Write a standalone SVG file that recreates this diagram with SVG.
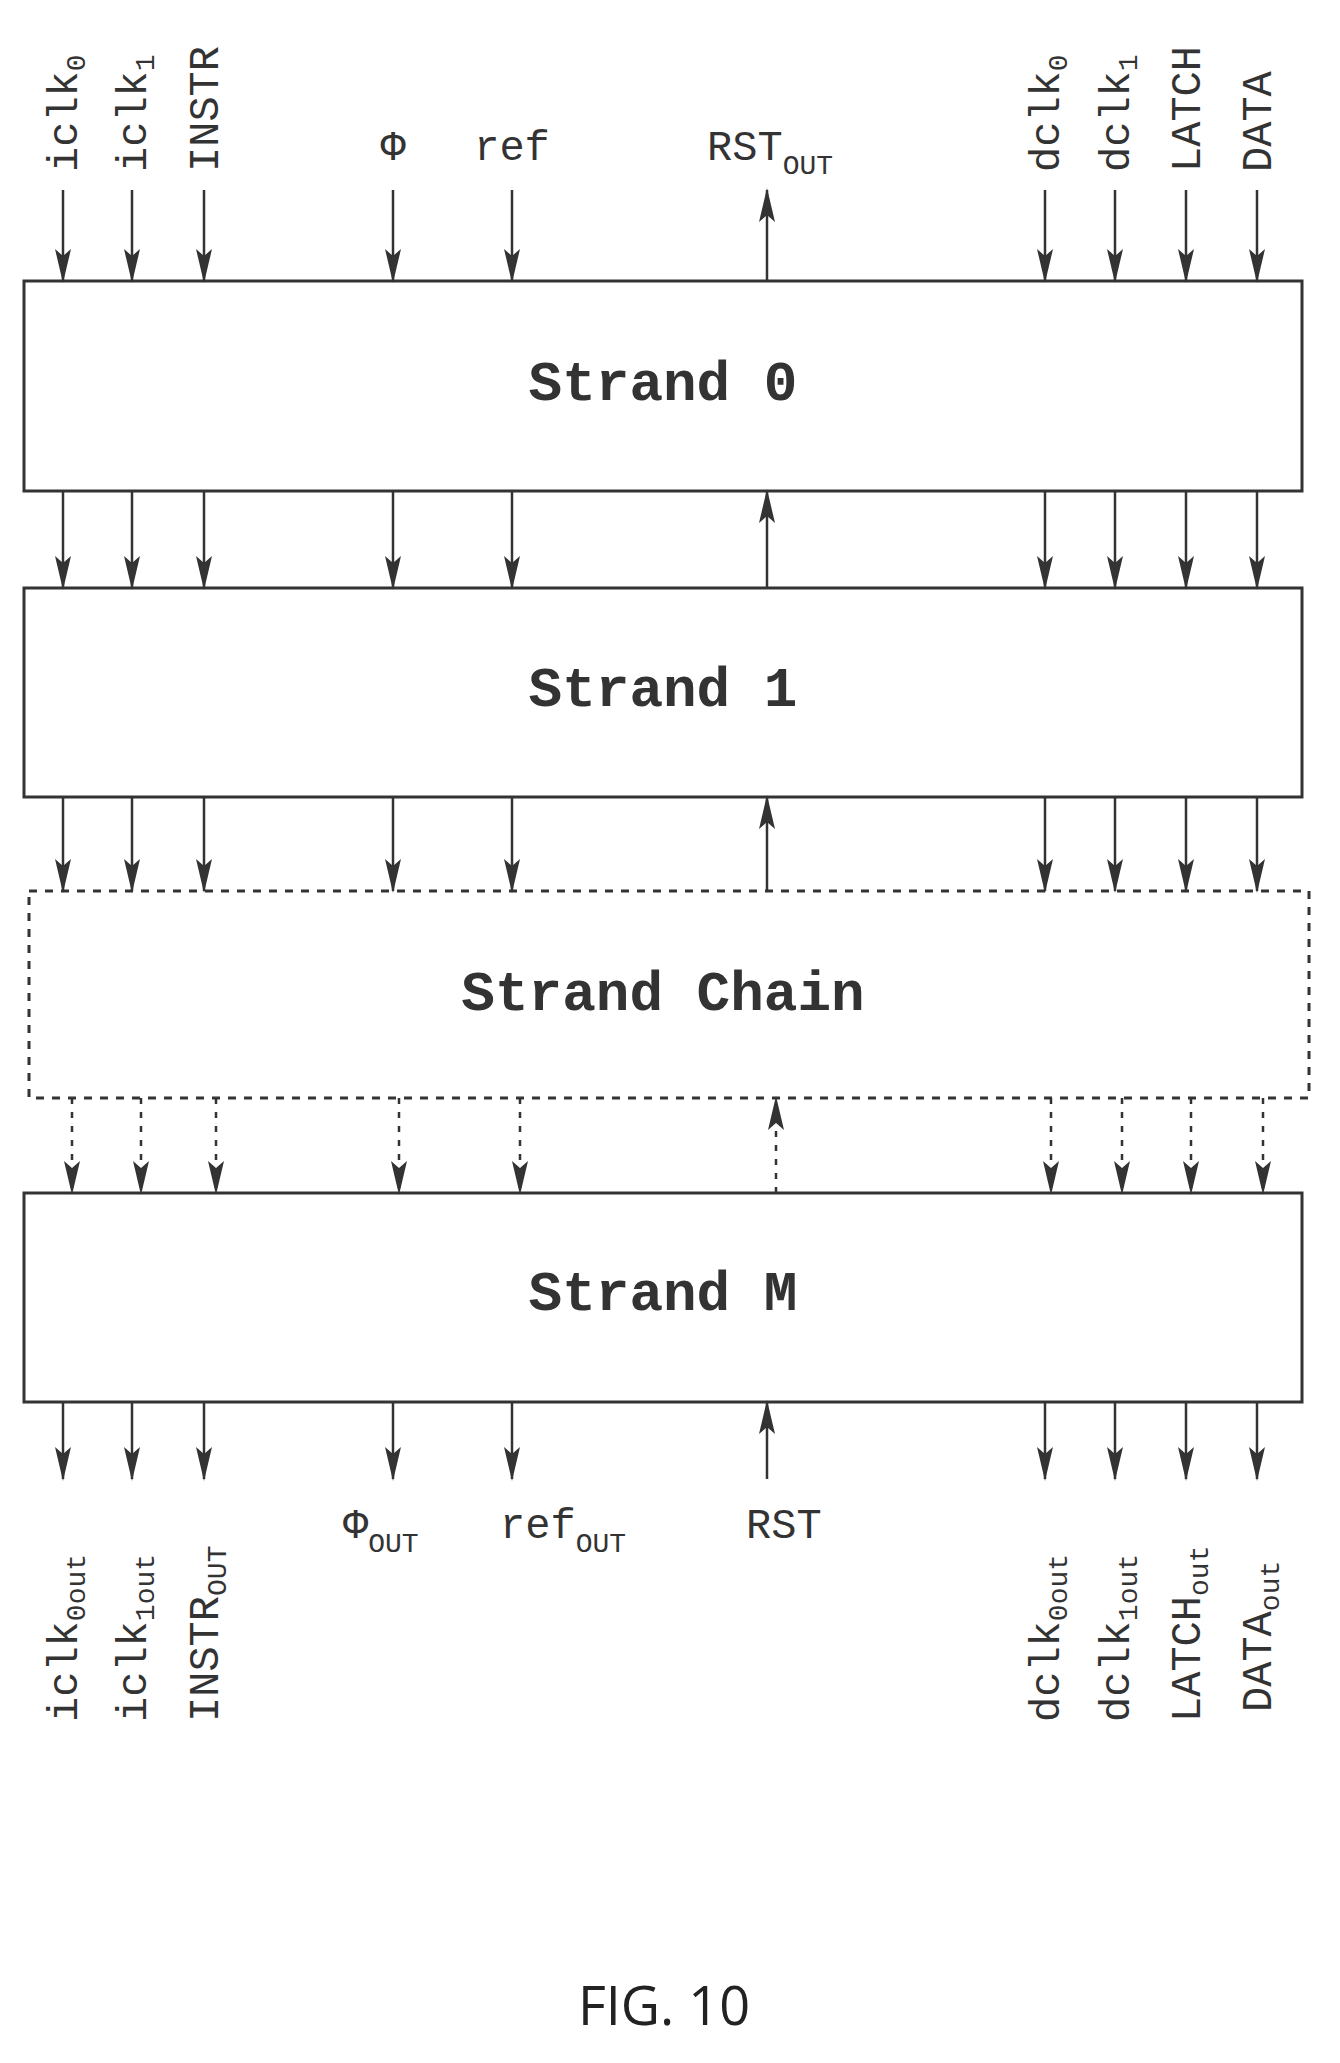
<svg xmlns="http://www.w3.org/2000/svg" width="1340" height="2063" viewBox="0 0 1340 2063">
<style>
.box{fill:#fff;stroke:#333;stroke-width:3}
.dbox{fill:none;stroke:#333;stroke-width:3;stroke-dasharray:8 8}
.w{stroke:#333;stroke-width:2.5;fill:none}
.dw{stroke:#333;stroke-width:2.5;fill:none;stroke-dasharray:6 8}
.lbl{font-family:"Liberation Mono",monospace;font-size:42px;fill:#333}
.sub{font-size:28px}
.title{font-family:"Liberation Mono",monospace;font-size:56px;font-weight:bold;fill:#333;text-anchor:middle}
.fig{font-family:"Open Sans","Liberation Sans",sans-serif;font-size:54px;fill:#222;text-anchor:middle}
</style>
<defs>
<marker id="ah" markerUnits="userSpaceOnUse" markerWidth="34" markerHeight="18" refX="32" refY="9" orient="auto" viewBox="0 0 34 18">
<path d="M0,1 L34,9 L0,17 L7,9 Z" fill="#333"/>
</marker>
</defs>
<g id="strand0"><rect class="box" x="24" y="281" width="1278" height="210"/><text class="title" x="663" y="400">Strand 0</text></g>
<g id="strand1"><rect class="box" x="24" y="588" width="1278" height="209"/><text class="title" x="663" y="706">Strand 1</text></g>
<g id="chain"><rect class="dbox" x="29" y="891" width="1280" height="207"/><text class="title" x="663" y="1010">Strand Chain</text></g>
<g id="strandM"><rect class="box" x="24" y="1193" width="1278" height="209"/><text class="title" x="663" y="1310">Strand M</text></g>
<g id="connectors" marker-end="url(#ah)">
<path class="w" d="M63,190V281"/><path class="w" d="M132,190V281"/><path class="w" d="M204,190V281"/><path class="w" d="M393,190V281"/><path class="w" d="M512,190V281"/><path class="w" d="M1045,190V281"/><path class="w" d="M1115,190V281"/><path class="w" d="M1186,190V281"/><path class="w" d="M1257,190V281"/>
<path class="w" d="M767,281V190"/>
<path class="w" d="M63,491V588"/><path class="w" d="M132,491V588"/><path class="w" d="M204,491V588"/><path class="w" d="M393,491V588"/><path class="w" d="M512,491V588"/><path class="w" d="M1045,491V588"/><path class="w" d="M1115,491V588"/><path class="w" d="M1186,491V588"/><path class="w" d="M1257,491V588"/>
<path class="w" d="M767,588V491"/>
<path class="w" d="M63,797V891"/><path class="w" d="M132,797V891"/><path class="w" d="M204,797V891"/><path class="w" d="M393,797V891"/><path class="w" d="M512,797V891"/><path class="w" d="M1045,797V891"/><path class="w" d="M1115,797V891"/><path class="w" d="M1186,797V891"/><path class="w" d="M1257,797V891"/>
<path class="w" d="M767,891V797"/>
<path class="dw" d="M72,1098V1193"/><path class="dw" d="M141,1098V1193"/><path class="dw" d="M216,1098V1193"/><path class="dw" d="M399,1098V1193"/><path class="dw" d="M520,1098V1193"/><path class="dw" d="M1051,1098V1193"/><path class="dw" d="M1122,1098V1193"/><path class="dw" d="M1191,1098V1193"/><path class="dw" d="M1263,1098V1193"/>
<path class="dw" d="M776,1193V1098"/>
<path class="w" d="M63,1402V1479"/><path class="w" d="M132,1402V1479"/><path class="w" d="M204,1402V1479"/><path class="w" d="M393,1402V1479"/><path class="w" d="M512,1402V1479"/><path class="w" d="M1045,1402V1479"/><path class="w" d="M1115,1402V1479"/><path class="w" d="M1186,1402V1479"/><path class="w" d="M1257,1402V1479"/>
<path class="w" d="M767,1479V1402"/>
</g>
<g id="top-labels" class="lbl">
<text transform="translate(77,172) rotate(-90)">iclk<tspan class="sub" dy="8">0</tspan></text>
<text transform="translate(146,172) rotate(-90)">iclk<tspan class="sub" dy="8">1</tspan></text>
<text transform="translate(218,172) rotate(-90)">INSTR</text>
<text x="393" y="160" text-anchor="middle">Φ</text>
<text x="512" y="160" text-anchor="middle">ref</text>
<text x="707" y="160">RST<tspan class="sub" dy="14">OUT</tspan></text>
<text transform="translate(1059,172) rotate(-90)">dclk<tspan class="sub" dy="8">0</tspan></text>
<text transform="translate(1129,172) rotate(-90)">dclk<tspan class="sub" dy="8">1</tspan></text>
<text transform="translate(1200,172) rotate(-90)">LATCH</text>
<text transform="translate(1271,172) rotate(-90)">DATA</text>
</g>
<g id="bottom-labels" class="lbl">
<text transform="translate(77,1722) rotate(-90)">iclk<tspan class="sub" dy="8">0out</tspan></text>
<text transform="translate(146,1722) rotate(-90)">iclk<tspan class="sub" dy="8">1out</tspan></text>
<text transform="translate(218,1722) rotate(-90)">INSTR<tspan class="sub" dy="8">OUT</tspan></text>
<text x="343" y="1538">Φ<tspan class="sub" dy="14">OUT</tspan></text>
<text x="500" y="1538">ref<tspan class="sub" dy="14">OUT</tspan></text>
<text x="746" y="1538">RST</text>
<text transform="translate(1059,1722) rotate(-90)">dclk<tspan class="sub" dy="8">0out</tspan></text>
<text transform="translate(1129,1722) rotate(-90)">dclk<tspan class="sub" dy="8">1out</tspan></text>
<text transform="translate(1200,1722) rotate(-90)">LATCH<tspan class="sub" dy="8">out</tspan></text>
<text transform="translate(1271,1712) rotate(-90)">DATA<tspan class="sub" dy="8">out</tspan></text>
</g>
<text class="fig" x="664" y="2025">FIG. 10</text>
</svg>
